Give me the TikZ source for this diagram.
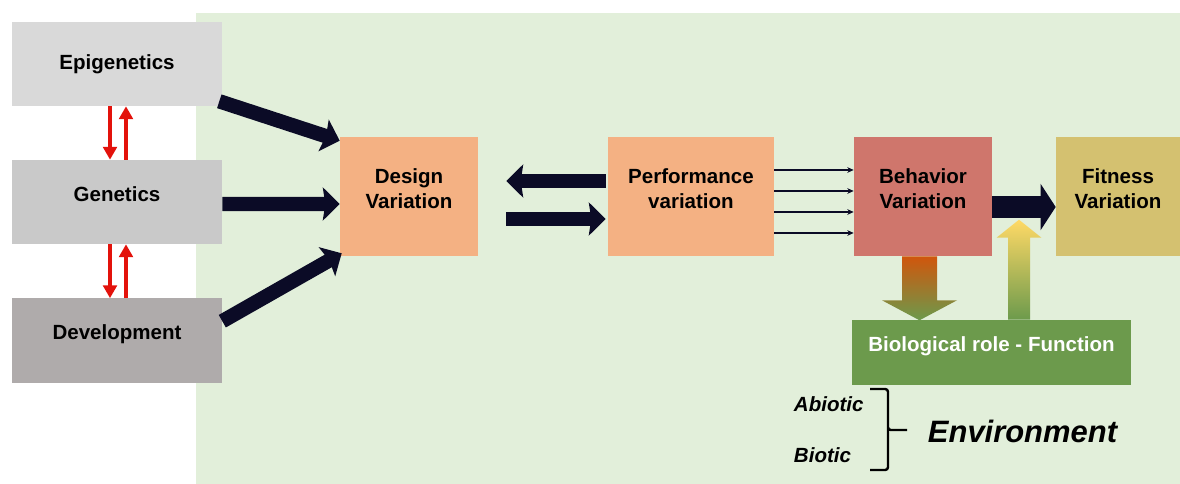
\documentclass[tikz,border=0pt]{standalone}
\usepackage{fontspec}
\setmainfont{Liberation Sans}
\usetikzlibrary{arrows.meta,calc}
\definecolor{bgg}{HTML}{E2EFDA}
\definecolor{epig}{HTML}{D9D9D9}
\definecolor{geng}{HTML}{C9C9C9}
\definecolor{devg}{HTML}{AFABAB}
\definecolor{peach}{HTML}{F4B183}
\definecolor{brick}{HTML}{CF766C}
\definecolor{gold}{HTML}{D4C170}
\definecolor{leaf}{HTML}{6C9A4C}
\definecolor{rust}{HTML}{D0560C}
\definecolor{straw}{HTML}{FFD966}
\definecolor{navy}{HTML}{0B0B26}
\definecolor{redar}{HTML}{E3120B}

\begin{document}
\begin{tikzpicture}[
        x=0.025cm,y=-0.025cm,
        box/.style={rectangle,inner sep=0pt,align=center,text depth=0.42cm,
            font=\fontsize{14.6}{17.8}\selectfont\bfseries},
        bigarrow/.style={draw=navy,line width=0.36cm,
            -{Stealth[length=0.42cm,width=0.82cm,inset=0.06cm]}},
        thinarrow/.style={draw=navy,line width=0.05cm,
            -{Stealth[length=0.16cm,width=0.14cm]}},
        redarrow/.style={draw=redar,line width=0.11cm,
            -{Triangle[length=0.32cm,width=0.34cm]}},
    ]

\useasboundingbox (0,0) rectangle (1180,484);
% green field
\fill[bgg] (196,13) rectangle (1180,484);

% left column
\node[box,fill=epig,text depth=0.1cm,minimum width=5.25cm,minimum height=2.1cm] (epi) at (117,64) {Epigenetics};
\node[box,fill=geng,minimum width=5.25cm,minimum height=2.1cm] (gen) at (117,202) {Genetics};
\node[box,fill=devg,minimum width=5.25cm,minimum height=2.1cm] (dev) at (117,340.5) {Development};

% main chain
\node[box,fill=peach,minimum width=3.45cm,minimum height=2.975cm] (design) at (409,196.5) {Design\\Variation};
\node[box,fill=peach,minimum width=4.15cm,minimum height=2.975cm] (perf) at (691,196.5) {Performance\\variation};
\node[box,fill=brick,minimum width=3.45cm,minimum height=2.975cm] (behav) at (923,196.5) {Behavior\\Variation};
\node[box,fill=gold,minimum width=3.1cm,minimum height=2.975cm] (fit) at (1118,196.5) {Fitness\\Variation};
\node[box,fill=leaf,text=white,minimum width=6.975cm,minimum height=1.625cm] (bio) at (991.5,352.5) {Biological role - Function};

% red arrows between the left boxes
\draw[redarrow] ($(epi.south)+(-7,0)$) -- ($(gen.north)+(-7,0)$);
\draw[redarrow] ($(gen.north)+(9,0)$) -- ($(epi.south)+(9,0)$);
\draw[redarrow] ($(gen.south)+(-7,0)$) -- ($(dev.north)+(-7,0)$);
\draw[redarrow] ($(dev.north)+(9,0)$) -- ($(gen.south)+(9,0)$);

% into design
\draw[bigarrow] ($(epi.south east)+(-3,-5)$) -- ($(design.north west)+(0,4)$);
\draw[bigarrow] ($(gen.east)+(0,2)$) -- ($(design.west)+(0,7.5)$);
\draw[bigarrow] ($(dev.north east)+(0,23)$) -- ($(design.south west)+(2,-3)$);

% design <-> performance
\draw[bigarrow] ($(perf.west)+(-2,-15.5)$) -- ($(design.east)+(28,-15.5)$);
\draw[bigarrow] ($(design.east)+(28,22.5)$) -- ($(perf.west)+(-2,22.5)$);

% performance -> behavior
\foreach \dy in {-26.5,-5.5,15.5,36.5}
  \draw[thinarrow] ($(perf.east)+(0,\dy)$) -- ($(behav.west)+(0,\dy)$);

% behavior -> fitness
\draw[draw=navy,line width=0.56cm,-{Triangle[length=0.38cm,width=1.15cm]}]
    ($(behav.east)+(0,10.5)$) -- ($(fit.west)+(0,10.5)$);

% shaded arrows to and from the function box
\coordinate (dnbase) at ($(behav.south)+(-3.5,0)$);
\shade[top color=rust,middle color=leaf!92!rust,bottom color=leaf] (dnbase) ++(-17.5,0) -- ++(0,44) -- ++(-20,0)
    -- ++(37.5,20) -- ++(37.5,-20) -- ++(-20,0) -- ++(0,-44) -- cycle;
\coordinate (upbase) at ($(bio.north)+(27.5,0)$);
\shade[top color=straw,middle color=leaf!75!straw,bottom color=leaf] (upbase) ++(-11,0) -- ++(0,-82) -- ++(-11.5,0)
    -- ++(22.5,-18) -- ++(22.5,18) -- ++(-11.5,0) -- ++(0,82) -- cycle;

% environment
\node[anchor=west,font=\fontsize{14.6}{17.8}\selectfont\bfseries\itshape] (abio) at (789,404) {Abiotic};
\node[anchor=west,font=\fontsize{14.6}{17.8}\selectfont\bfseries\itshape] (bioti) at (789,455) {Biotic};
\node[anchor=west,font=\fontsize{22}{26}\selectfont\bfseries\itshape] (env) at (923,431) {Environment};
\coordinate (btop) at (870,389);
\coordinate (bbot) at (870,470);
\draw[line width=0.06cm,rounded corners=2pt] (btop) -- ++(18,0) -- ++(0,41) -- ++(19,0)
    (bbot) -- ++(18,0) -- ++(0,-40) -- ++(0,-1);
\end{tikzpicture}
\end{document}
